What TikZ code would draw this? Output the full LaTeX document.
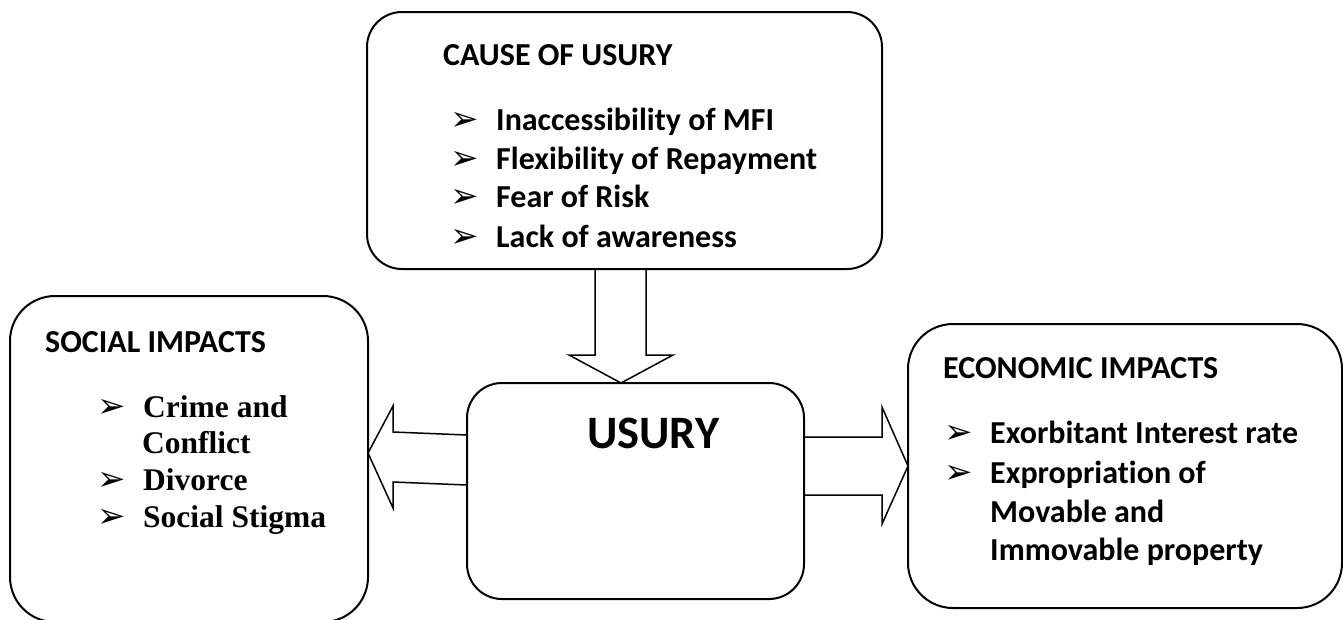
\documentclass[tikz,border=0pt]{standalone}
\usepackage{fontspec}
\setmainfont{Carlito}[Ligatures=NoCommon]
\newfontfamily\timesfont{Liberation Serif}
\newfontfamily\dingfont{DejaVu Sans}
\usepackage{tikz}
\usetikzlibrary{calc}
\tikzstyle{box} = [draw, rectangle, line width=2pt, outer sep=0pt, inner sep=0pt]
\tikzstyle{head} = [anchor=base west, inner sep=0pt, font=\bfseries\fontsize{32}{38}\selectfont]
\tikzstyle{item} = [head]
\tikzstyle{titem} = [anchor=base west, inner sep=0pt,
    font=\timesfont\bfseries\fontsize{31.5}{37}\selectfont]
\tikzstyle{bigarrow} = [draw, line width=1.5pt, line join=miter]
\newcommand{\pointer}{\makebox[46pt][l]{\dingfont\mdseries\fontsize{34}{34}\selectfont ➢}}

\begin{document}
\begin{tikzpicture}[x=1pt, y=-1pt]
    \useasboundingbox (0,0) rectangle (1343,619);
    % We start by placing the blocks
    \node [box, rounded corners=35pt, minimum width=515pt, minimum height=257pt] (cause) at (624.5,140.5) {};
    \node [box, rounded corners=45pt, minimum width=358pt, minimum height=326pt] (social) at (189,459) {};
    \node [box, rounded corners=35pt, minimum width=337pt, minimum height=216pt] (usury) at (635.5,491) {};
    \node [box, rounded corners=45pt, minimum width=434pt, minimum height=284pt] (economic) at (1125,466) {};

    % Then the texts inside them
    \node [head] (causehead) at (443,65) {CAUSE OF USURY};
    \node [item] (cause1) at (450,130) {\pointer Inaccessibility of MFI};
    \node [item] (cause2) at (450,169) {\pointer Flexibility of Repayment};
    \node [item] (cause3) at (450,207) {\pointer Fear of Risk};
    \node [item] (cause4) at (450,247) {\pointer Lack of awareness};

    \node [head] (socialhead) at (45,352) {SOCIAL IMPACTS};
    \node [titem] (social1) at (97,417) {\pointer Crime and};
    \node [titem] (social1b) at (142,453) {Conflict};
    \node [titem] (social2) at (97,490) {\pointer Divorce};
    \node [titem] (social3) at (97,527) {\pointer Social Stigma};

    \node [head, font=\bfseries\fontsize{46.5}{56}\selectfont] (usuryhead) at (587,448) {USURY};

    \node [head] (economichead) at (943,378) {ECONOMIC IMPACTS};
    \node [item] (economic1) at (944,443) {\pointer Exorbitant Interest rate};
    \node [item] (economic2) at (944,483) {\pointer Expropriation of};
    \node [item] (economic2b) at (990,522) {Movable and};
    \node [item] (economic2c) at (990,560) {Immovable property};

    % Once the blocks are placed, the wide arrows join them
    \coordinate (downtip) at ($(usury.north)+(-14.5,0)$);
    \draw [bigarrow] ($(cause.south)+(-29.5,0)$) -- ++(0,86) -- ++(-26,0) -- (downtip)
        -- ++(52,-28) -- ++(-27,0) -- ($(cause.south)+(21.5,0)$);
    \coordinate (lefttip) at ($(social.east)+(0,-6)$);
    \draw [bigarrow] ($(usury.west)+(0,-56)$) -- ($(lefttip)+(25,-21)$) -- ++(0,-26) -- (lefttip)
        -- ++(25,55) -- ++(0,-26) -- ($(usury.west)+(0,-6)$);
    \draw [bigarrow] ($(usury.east)+(0,-54)$) -- ($(economic.west)+(-26,-29)$) -- ++(0,-30) -- (economic.west)
        -- ++(-26,58) -- ++(0,-29) -- ($(usury.east)+(0,4)$);
\end{tikzpicture}
\end{document}
